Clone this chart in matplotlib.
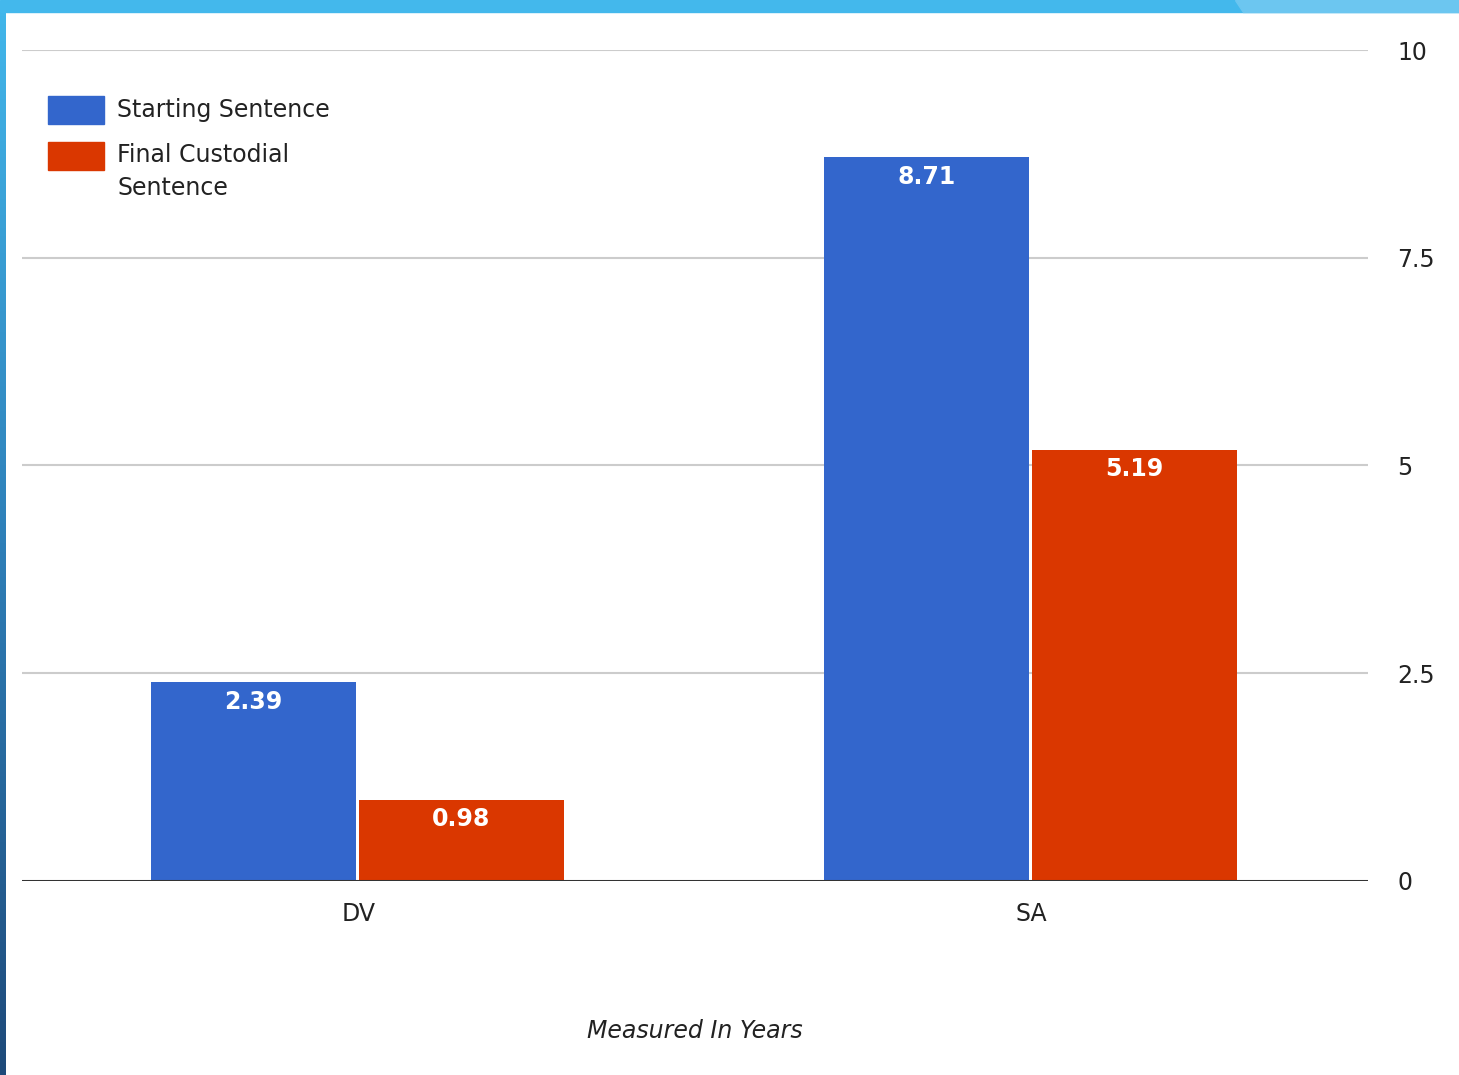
import numpy as np
import matplotlib.pyplot as plt
import matplotlib.patches as mpatches
from matplotlib.colors import LinearSegmentedColormap

## data
categories = ['DV', 'SA']
series_names = ['Starting Sentence', 'Final Custodial\nSentence']
starting = [2.39, 8.71]
final = [0.98, 5.19]
y_ticks = [0, 2.5, 5, 7.5, 10]
y_tick_labels = ['0', '2.5', '5', '7.5', '10']

blue = '#3366CC'
red = '#DA3700'
W, H = 1459, 1075

fig = plt.figure(figsize=(W/100, H/100), dpi=100)
fig.patch.set_facecolor('white')

# slide decoration: top band and left strip
fig.patches.append(mpatches.Rectangle((0, 1 - 12/H), 1, 12/H, transform=fig.transFigure,
                                      color='#43B8EC', zorder=0))
fig.patches.append(mpatches.Polygon([[1235/W, 1], [1, 1], [1, 1 - 12/H], [1243/W, 1 - 12/H]],
                                    closed=True, transform=fig.transFigure, color='#6CC6F0', zorder=0))
grad = np.linspace(0, 1, 256).reshape(-1, 1)
cmap = LinearSegmentedColormap.from_list('strip', ['#42B6EA', '#2E7FB8', '#1E4A7A'])
ax_strip = fig.add_axes([0, 0, 6/W, 1 - 12/H])
ax_strip.imshow(grad, aspect='auto', cmap=cmap, extent=[0, 1, 0, 1])
ax_strip.axis('off')

ax = fig.add_axes([22/W, 194/H, (1368-22)/W, (1025-194)/H])
x = np.arange(len(categories))
w = 0.306
b1 = ax.bar(x - w/2 - 0.003, starting, width=w, color=blue, edgecolor='none', zorder=3)
b2 = ax.bar(x + w/2, final, width=w, color=red, edgecolor='none', zorder=3)

for bars, vals in [(b1, starting), (b2, final)]:
    for rect, v in zip(bars, vals):
        ax.text(rect.get_x() + rect.get_width()/2, v - 0.09, f'{v:.2f}', ha='center', va='top',
                color='white', fontsize=17, fontweight='bold', zorder=4)

ax.set_xlim(-0.5, 1.5)
ax.set_ylim(0, 10)
ax.set_yticks(y_ticks)
ax.set_yticklabels(y_tick_labels)
ax.yaxis.tick_right()
ax.tick_params(axis='y', length=0, pad=21, labelsize=17, labelcolor='#222222')
for lbl in ax.get_yticklabels():
    lbl.set_ha('left')
ax.set_xticks(x)
ax.set_xticklabels(categories)
ax.tick_params(axis='x', length=0, pad=15, labelsize=17, labelcolor='#222222')
for t in y_ticks[1:]:
    ax.axhline(t, color='#CCCCCC', lw=1.5, zorder=1)
ax.axhline(0, color='#333333', lw=2.2, zorder=5)
for s in ax.spines.values():
    s.set_visible(False)

ax.set_xlabel('Measured In Years', fontsize=17, style='italic', color='#222222', labelpad=67)

# legend drawn by hand so the wrapped label sits like the original
for i, (name, col) in enumerate(zip(series_names, [blue, red])):
    top = 96 + 46*i
    fig.patches.append(mpatches.Rectangle((48/W, 1 - (top + 28)/H), 56/W, 28/H,
                                          transform=fig.transFigure, color=col, zorder=2))
    fig.text(117/W, 1 - (top + 14)/H, name, ha='left', va='top' if '\n' in name else 'center',
             fontsize=17, color='#222222', linespacing=1.45)
# nudge multi-line label so first line centres on its box
fig.texts[-1].set_position((117/W, 1 - (142 + 1)/H))

fig.savefig('out.png', dpi=100)
